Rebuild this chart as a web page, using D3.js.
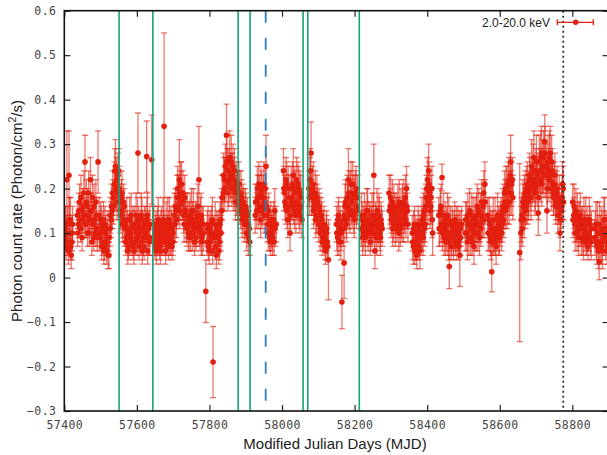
<!DOCTYPE html>
<html>
<head>
<meta charset="utf-8">
<script src="https://cdn.jsdelivr.net/npm/d3@7"></script>
<style>
  body { margin: 0; background: #fff; }
  svg { display: block; }
</style>
</head>
<body>
<svg id="chart" width="607" height="455"></svg>
<script>
// light curve (MJD, rate, 1-sigma error)
var mjd = [
  [57401,57403,57405,57407,57409,57411,57413,57415,57417,57419,57421,57423],
  [57436,57439,57442,57445,57448,57451,57454,57457,57460,57463,57466,57469,57472,57475,57478,57481,57484,57487,57490,57493],
  [57496,57499,57502,57505,57508,57511,57514,57517,57520,57523,57526,57529],
  [57532,57535,57538,57541,57544,57547,57550,57553,57556,57559,57562,57565],
  [57568,57571,57574,57577,57580,57583,57586,57589,57592,57595,57598,57601,57605,57608,57611,57614,57617,57620,57623,57626,57629,57632,57635],
  [57644,57647,57650,57653,57656,57659,57662,57665,57668,57671,57674,57678,57681,57684,57687,57690,57693,57696,57699,57702],
  [57705,57708,57711,57714,57717,57720,57723,57726,57729,57732],
  [57735,57738,57741,57744,57747,57750,57753,57756,57759,57762,57765,57768,57771,57774,57777,57780,57783],
  [57793,57796,57799,57802,57805,57808,57813,57816,57819,57822,57825,57828,57831,57834],
  [57838,57841,57844,57847,57850,57853,57856,57859,57862,57865,57868,57871,57874],
  [57877,57880,57883,57886,57889,57892,57895,57898,57901,57904,57907,57910],
  [57926,57929,57932,57935,57938,57941,57944,57947,57950,57953,57956,57959,57962,57965,57968,57971,57974,57977,57980,57984],
  [58004,58007,58010,58013,58016,58019,58022,58025,58028,58031,58034,58037,58040,58043,58046,58049,58052,58055],
  [58074,58077,58080,58083,58086,58089,58092,58095,58098,58101,58104,58107,58110,58113,58116,58119,58122,58125,58128],
  [58150,58153,58156,58159,58162,58168,58174,58177,58180,58183,58186,58189,58192,58195,58198,58201,58204,58207],
  [58218,58221,58224,58227,58230,58233,58236,58239,58242,58245,58248,58251,58253,58256,58259,58262,58265,58268,58271,58274],
  [58295,58298,58301,58304,58307,58310,58313,58316,58319,58322,58325,58328,58331,58334,58337,58340,58343,58346],
  [58359,58362,58365,58368,58371,58374,58377,58380,58383,58386,58389,58392,58395,58398,58401,58404,58407,58410,58413,58415],
  [58432,58435,58438,58441,58444,58447,58450,58453,58456,58459,58461,58464,58467,58470,58473,58476,58479,58482,58485,58488,58490,58493],
  [58505,58508,58511,58514,58517,58520,58523,58526,58529,58532,58535,58538,58541,58544,58547,58550,58553,58556,58559],
  [58567,58570,58573,58576,58578,58581,58584,58587,58590,58593,58596,58599],
  [58601,58604,58607,58610,58613,58616,58619,58622,58625,58628,58630,58633,58636],
  [58655,58658,58661,58664,58667,58670,58673,58676,58679,58682,58685,58688,58691,58694,58697,58700,58703,58706,58709,58712,58715,58718,58721,58724,58727,58730,58733,58736,58739,58742,58745,58748,58751,58754,58757,58760,58763,58766,58769,58772,58775],
  [58801,58804,58807,58810,58813,58816,58819,58822,58825,58828,58831,58834,58837,58840,58843,58846,58849,58852],
  [58862,58865,58868,58871,58874,58877,58880,58883,58886,58889,58892,58895,58898],
  [57603,57627,57641,57675,57790,57810,58165,58171]
];
var rate = [
  [0.09,0.11,0.07,0.22,0.12,0.06,0.23,0.10,0.13,0.05,0.08,0.12],
  [0.14,0.12,0.17,0.11,0.15,0.13,0.19,0.26,0.12,0.16,0.14,0.10,0.22,0.15,0.18,0.09,0.13,0.17,0.11,0.26],
  [0.14,0.10,0.12,0.08,0.13,0.07,0.10,0.06,0.09,0.05,0.11,0.13],
  [0.15,0.18,0.21,0.25,0.22,0.19,0.24,0.17,0.15,0.19,0.13,0.16],
  [0.12,0.09,0.11,0.07,0.13,0.10,0.08,0.12,0.06,0.11,0.14,0.09,0.12,0.10,0.08,0.13,0.11,0.07,0.12,0.09,0.14,0.11,0.08],
  [0.09,0.12,0.07,0.11,0.08,0.13,0.10,0.06,0.12,0.09,0.11,0.08,0.12,0.10,0.07,0.13,0.09,0.11,0.08,0.12],
  [0.12,0.15,0.18,0.16,0.22,0.19,0.21,0.17,0.14,0.18],
  [0.15,0.11,0.13,0.09,0.14,0.12,0.10,0.15,0.08,0.13,0.11,0.16,0.22,0.10,0.14,0.09,0.12],
  [0.08,0.12,0.06,0.11,0.09,0.13,0.10,0.12,0.05,0.09,0.11,0.08,0.13,0.15],
  [0.19,0.22,0.25,0.32,0.24,0.21,0.27,0.23,0.20,0.25,0.22,0.19,0.21],
  [0.20,0.17,0.19,0.15,0.18,0.14,0.16,0.13,0.15,0.12,0.09,0.11],
  [0.14,0.17,0.20,0.15,0.18,0.13,0.19,0.16,0.21,0.17,0.25,0.14,0.10,0.12,0.08,0.11,0.09,0.13,0.15,0.12],
  [0.24,0.19,0.16,0.21,0.13,0.18,0.10,0.20,0.17,0.23,0.15,0.19,0.22,0.16,0.20,0.14,0.18,0.13],
  [0.20,0.22,0.28,0.18,0.21,0.16,0.19,0.14,0.17,0.12,0.15,0.11,0.13,0.09,0.12,0.07,0.10,0.08,0.04],
  [0.12,0.09,0.14,0.11,0.08,0.13,0.16,0.12,0.18,0.22,0.15,0.19,0.17,0.21,0.14,0.18,0.20,0.16],
  [0.11,0.13,0.10,0.14,0.09,0.12,0.15,0.11,0.13,0.10,0.14,0.12,0.23,0.06,0.12,0.15,0.11,0.13,0.09,0.12],
  [0.19,0.16,0.13,0.17,0.12,0.15,0.11,0.14,0.16,0.10,0.13,0.15,0.12,0.17,0.14,0.18,0.20,0.15],
  [0.10,0.07,0.12,0.08,0.05,0.09,0.11,0.06,0.10,0.13,0.09,0.15,0.12,0.18,0.22,0.24,0.19,0.16,0.20,0.10],
  [0.14,0.11,0.16,0.225,0.12,0.09,0.13,0.10,0.14,0.08,0.025,0.12,0.09,0.11,0.07,0.13,0.10,0.08,0.12,0.09,0.05,0.11],
  [0.10,0.13,0.08,0.12,0.15,0.09,0.14,0.11,0.07,0.13,0.10,0.16,0.12,0.09,0.14,0.17,0.13,0.19,0.21],
  [0.14,0.10,0.12,0.08,0.013,0.11,0.09,0.13,0.07,0.10,0.12,0.09],
  [0.11,0.14,0.12,0.16,0.19,0.15,0.20,0.17,0.22,0.19,0.26,0.21,0.18],
  [0.056,0.10,0.14,0.17,0.13,0.19,0.16,0.21,0.18,0.23,0.20,0.25,0.22,0.27,0.19,0.24,0.21,0.145,0.26,0.22,0.28,0.24,0.27,0.306,0.23,0.15,0.26,0.22,0.28,0.20,0.24,0.18,0.21,0.16,0.19,0.14,0.17,0.10,0.15,0.18,0.20],
  [0.17,0.14,0.12,0.15,0.10,0.13,0.11,0.14,0.09,0.12,0.08,0.11,0.13,0.09,0.07,0.10,0.12,0.08],
  [0.09,0.12,0.07,0.10,0.035,0.08,0.11,0.06,0.09,0.13,0.08,0.10,0.07],
  [0.28,0.272,0.265,0.34,-0.031,-0.19,-0.055,0.033]
];
var rateErr = [
  [0.04,0.05,0.03,0.11,0.04,0.03,0.10,0.04,0.05,0.03,0.04,0.04],
  [0.03,0.03,0.04,0.03,0.04,0.03,0.05,0.06,0.03,0.04,0.04,0.03,0.05,0.04,0.05,0.03,0.04,0.05,0.04,0.07],
  [0.04,0.03,0.04,0.03,0.04,0.03,0.04,0.03,0.04,0.03,0.04,0.04],
  [0.04,0.04,0.05,0.06,0.05,0.04,0.05,0.04,0.04,0.05,0.04,0.04],
  [0.04,0.03,0.04,0.03,0.05,0.04,0.03,0.04,0.03,0.04,0.05,0.04,0.04,0.04,0.03,0.05,0.04,0.03,0.04,0.04,0.05,0.04,0.03],
  [0.04,0.04,0.03,0.04,0.03,0.05,0.04,0.03,0.04,0.04,0.04,0.03,0.05,0.04,0.03,0.05,0.04,0.04,0.03,0.04],
  [0.04,0.04,0.05,0.04,0.09,0.05,0.05,0.04,0.04,0.05],
  [0.04,0.04,0.04,0.03,0.05,0.04,0.04,0.05,0.03,0.04,0.04,0.05,0.12,0.04,0.05,0.04,0.04],
  [0.03,0.04,0.03,0.04,0.04,0.05,0.04,0.05,0.03,0.04,0.04,0.04,0.05,0.05],
  [0.04,0.05,0.05,0.07,0.05,0.05,0.06,0.05,0.04,0.05,0.05,0.04,0.05],
  [0.04,0.04,0.05,0.04,0.04,0.04,0.04,0.04,0.04,0.04,0.04,0.04],
  [0.04,0.04,0.05,0.04,0.05,0.04,0.05,0.04,0.05,0.04,0.07,0.04,0.04,0.04,0.03,0.04,0.04,0.04,0.05,0.04],
  [0.05,0.04,0.04,0.05,0.04,0.05,0.04,0.05,0.04,0.06,0.04,0.05,0.05,0.04,0.05,0.04,0.05,0.04],
  [0.04,0.05,0.07,0.04,0.05,0.04,0.05,0.04,0.04,0.04,0.04,0.04,0.04,0.03,0.04,0.03,0.04,0.04,0.09],
  [0.04,0.04,0.04,0.04,0.04,0.04,0.05,0.04,0.05,0.07,0.04,0.05,0.05,0.05,0.04,0.05,0.05,0.04],
  [0.04,0.04,0.04,0.05,0.04,0.04,0.05,0.04,0.04,0.04,0.05,0.04,0.07,0.04,0.04,0.05,0.04,0.05,0.04,0.04],
  [0.04,0.04,0.04,0.05,0.04,0.04,0.04,0.04,0.05,0.04,0.04,0.05,0.04,0.05,0.04,0.05,0.05,0.04],
  [0.04,0.04,0.04,0.04,0.03,0.04,0.04,0.04,0.04,0.05,0.04,0.05,0.04,0.05,0.05,0.06,0.05,0.04,0.05,0.05],
  [0.04,0.04,0.05,0.03,0.04,0.04,0.04,0.04,0.05,0.04,0.05,0.04,0.04,0.04,0.03,0.04,0.04,0.04,0.04,0.04,0.07,0.04],
  [0.04,0.04,0.04,0.04,0.05,0.04,0.05,0.04,0.04,0.05,0.04,0.05,0.04,0.04,0.05,0.05,0.04,0.05,0.05],
  [0.04,0.04,0.04,0.04,0.045,0.04,0.04,0.05,0.04,0.04,0.04,0.04],
  [0.04,0.04,0.04,0.05,0.05,0.04,0.05,0.05,0.05,0.05,0.06,0.05,0.05],
  [0.2,0.06,0.05,0.05,0.04,0.05,0.04,0.05,0.05,0.05,0.05,0.06,0.05,0.06,0.05,0.05,0.05,0.05,0.06,0.05,0.06,0.05,0.06,0.06,0.05,0.05,0.06,0.05,0.06,0.05,0.05,0.04,0.05,0.04,0.05,0.04,0.04,0.04,0.04,0.05,0.05],
  [0.04,0.04,0.04,0.05,0.04,0.04,0.04,0.05,0.04,0.04,0.04,0.04,0.05,0.04,0.03,0.04,0.04,0.04],
  [0.04,0.05,0.04,0.04,0.04,0.04,0.05,0.04,0.04,0.05,0.04,0.04,0.04],
  [0.09,0.08,0.10,0.21,0.07,0.08,0.06,0.08]
];

// the days in between (the daily scatter that makes the blobs look dense)
var mjdFill = [
  [57402,57406,57410,57414,57418,57422],
  [57437,57440,57443,57446,57449,57452,57455,57458,57461,57464,57467,57470,57473,57476,57479,57482,57485,57488,57491],
  [57497,57500,57503,57506,57509,57512,57515,57518,57521,57524,57527,57530],
  [57533,57536,57539,57542,57545,57548,57551,57554,57557,57560,57563,57566],
  [57569,57572,57575,57578,57581,57584,57587,57590,57593,57596,57599,57602,57606,57609,57612,57615,57618,57621,57624,57628,57630,57633,57636],
  [57645,57648,57651,57654,57657,57660,57663,57666,57669,57672,57676,57679,57682,57685,57688,57691,57694,57697,57700,57703],
  [57706,57709,57712,57715,57718,57721,57724,57727,57730,57733],
  [57736,57739,57742,57745,57748,57751,57754,57757,57760,57763,57766,57769,57772,57775,57778,57781,57784],
  [57794,57797,57800,57803,57806,57809,57814,57817,57820,57823,57826,57829,57832,57835],
  [57839,57842,57845,57848,57851,57854,57857,57860,57863,57866,57869,57872,57875],
  [57878,57881,57884,57887,57890,57893,57896,57899,57902,57905,57908,57911],
  [57927,57930,57933,57936,57939,57942,57945,57948,57951,57954,57957,57960,57963,57966,57969,57972,57975,57978,57981],
  [58005,58008,58011,58014,58017,58020,58023,58026,58029,58032,58035,58038,58041,58044,58047,58050,58053],
  [58075,58078,58081,58084,58087,58090,58093,58096,58099,58102,58105,58108,58111,58114,58117,58120,58123,58126],
  [58151,58154,58157,58160,58163,58169,58172,58175,58178,58181,58184,58187,58190,58193,58196,58199,58202,58205,58208],
  [58219,58222,58225,58228,58231,58234,58237,58240,58243,58246,58249,58252,58255,58258,58261,58264,58267,58270,58273,58276],
  [58296,58299,58302,58305,58308,58311,58314,58317,58320,58323,58326,58329,58332,58335,58338,58341,58344,58347],
  [58360,58363,58366,58369,58372,58375,58378,58381,58384,58387,58390,58393,58396,58399,58402,58405,58408,58411,58414],
  [58433,58436,58439,58442,58445,58448,58451,58454,58457,58460,58463,58466,58469,58472,58475,58478,58481,58484,58487,58489,58492,58495],
  [58506,58509,58512,58515,58518,58521,58524,58527,58530,58533,58536,58539,58542,58545,58548,58551,58554,58557,58560],
  [58568,58571,58574,58577,58580,58582,58585,58588,58591,58594,58597,58600],
  [58602,58605,58608,58611,58614,58617,58620,58623,58626,58629,58632,58635],
  [58659,58662,58665,58668,58671,58674,58677,58680,58683,58686,58689,58692,58695,58698,58701,58704,58707,58710,58713,58716,58719,58722,58725,58728,58731,58734,58737,58740,58743,58746,58749,58752,58755,58758,58761,58764,58767,58770,58773,58776],
  [58802,58805,58808,58811,58814,58817,58820,58823,58826,58829,58832,58835,58838,58841,58844,58847,58850,58853],
  [58863,58866,58869,58872,58875,58878,58881,58884,58887,58890,58893,58896,58899]
];
var rateFill = [
  [0.12,0.10,0.08,0.13,0.07,0.10],
  [0.10,0.15,0.13,0.18,0.09,0.16,0.14,0.12,0.17,0.10,0.19,0.13,0.15,0.08,0.12,0.16,0.10,0.14,0.09],
  [0.09,0.13,0.07,0.11,0.06,0.12,0.08,0.11,0.05,0.09,0.14,0.16],
  [0.19,0.16,0.24,0.20,0.17,0.23,0.20,0.14,0.18,0.12,0.17,0.11],
  [0.08,0.13,0.06,0.10,0.09,0.14,0.11,0.07,0.12,0.08,0.10,0.13,0.07,0.11,0.14,0.06,0.09,0.12,0.10,0.13,0.06,0.09,0.12],
  [0.12,0.08,0.10,0.06,0.12,0.09,0.07,0.11,0.08,0.13,0.10,0.06,0.09,0.13,0.11,0.08,0.12,0.07,0.10,0.14],
  [0.16,0.13,0.20,0.18,0.15,0.21,0.17,0.19,0.12,0.15],
  [0.12,0.14,0.10,0.13,0.09,0.15,0.13,0.11,0.12,0.09,0.14,0.12,0.11,0.13,0.08,0.12,0.10],
  [0.11,0.07,0.10,0.08,0.12,0.06,0.09,0.07,0.11,0.10,0.06,0.12,0.10,0.18],
  [0.23,0.20,0.22,0.26,0.19,0.24,0.22,0.26,0.23,0.20,0.24,0.17,0.19],
  [0.17,0.21,0.16,0.19,0.13,0.17,0.12,0.16,0.10,0.14,0.12,0.08],
  [0.17,0.15,0.18,0.21,0.16,0.20,0.15,0.18,0.14,0.20,0.16,0.12,0.15,0.09,0.13,0.10,0.12,0.08,0.11],
  [0.20,0.17,0.22,0.15,0.20,0.16,0.14,0.18,0.21,0.16,0.20,0.14,0.17,0.21,0.15,0.19,0.16],
  [0.18,0.24,0.19,0.20,0.15,0.17,0.13,0.18,0.14,0.16,0.10,0.14,0.08,0.11,0.09,0.06,0.11,0.07],
  [0.10,0.13,0.08,0.12,0.10,0.11,0.14,0.17,0.13,0.16,0.19,0.14,0.21,0.15,0.18,0.13,0.19,0.15,0.18],
  [0.14,0.09,0.12,0.11,0.13,0.15,0.10,0.13,0.08,0.12,0.11,0.14,0.10,0.13,0.09,0.12,0.14,0.10,0.13,0.11],
  [0.15,0.18,0.14,0.11,0.16,0.13,0.15,0.12,0.14,0.17,0.11,0.13,0.16,0.12,0.15,0.13,0.16,0.12],
  [0.08,0.11,0.06,0.10,0.08,0.12,0.07,0.09,0.12,0.10,0.14,0.11,0.16,0.20,0.17,0.21,0.15,0.18,0.13],
  [0.11,0.15,0.12,0.10,0.14,0.11,0.08,0.12,0.09,0.13,0.10,0.07,0.12,0.09,0.11,0.08,0.12,0.10,0.07,0.11,0.09,0.12],
  [0.13,0.10,0.14,0.09,0.12,0.11,0.08,0.13,0.10,0.12,0.14,0.10,0.15,0.12,0.11,0.14,0.16,0.13,0.17],
  [0.10,0.13,0.09,0.11,0.08,0.13,0.10,0.08,0.11,0.14,0.09,0.12],
  [0.13,0.10,0.15,0.13,0.17,0.20,0.16,0.21,0.17,0.23,0.19,0.22],
  [0.13,0.11,0.16,0.18,0.15,0.20,0.17,0.19,0.22,0.18,0.21,0.24,0.22,0.20,0.26,0.23,0.18,0.24,0.27,0.21,0.25,0.23,0.28,0.25,0.20,0.24,0.27,0.23,0.26,0.21,0.19,0.23,0.17,0.20,0.16,0.18,0.13,0.16,0.21,0.17],
  [0.13,0.16,0.10,0.12,0.14,0.09,0.13,0.11,0.12,0.09,0.13,0.10,0.08,0.12,0.10,0.13,0.09,0.11],
  [0.11,0.08,0.12,0.06,0.12,0.10,0.07,0.11,0.13,0.09,0.11,0.06,0.10]
];
var errFill = [
  [0.04,0.04,0.03,0.05,0.03,0.04],
  [0.03,0.04,0.04,0.05,0.03,0.04,0.04,0.03,0.05,0.03,0.05,0.04,0.04,0.03,0.04,0.05,0.03,0.04,0.03],
  [0.03,0.04,0.03,0.04,0.03,0.04,0.03,0.04,0.03,0.03,0.04,0.05],
  [0.05,0.04,0.05,0.05,0.04,0.05,0.05,0.04,0.04,0.04,0.04,0.04],
  [0.03,0.05,0.03,0.04,0.04,0.05,0.04,0.03,0.04,0.03,0.04,0.05,0.03,0.04,0.05,0.03,0.04,0.04,0.04,0.05,0.03,0.04,0.04],
  [0.04,0.03,0.04,0.03,0.04,0.04,0.03,0.04,0.03,0.05,0.04,0.03,0.04,0.05,0.04,0.03,0.04,0.03,0.04,0.05],
  [0.04,0.04,0.05,0.05,0.04,0.05,0.04,0.05,0.04,0.04],
  [0.04,0.05,0.04,0.04,0.03,0.05,0.04,0.04,0.04,0.03,0.05,0.04,0.04,0.05,0.03,0.04,0.04],
  [0.04,0.03,0.04,0.03,0.04,0.03,0.04,0.03,0.04,0.04,0.03,0.05,0.04,0.05],
  [0.05,0.05,0.05,0.06,0.04,0.05,0.05,0.06,0.05,0.05,0.05,0.04,0.05],
  [0.04,0.05,0.04,0.05,0.04,0.04,0.04,0.04,0.04,0.04,0.04,0.03],
  [0.04,0.04,0.05,0.05,0.04,0.05,0.04,0.05,0.04,0.05,0.04,0.04,0.04,0.03,0.04,0.04,0.04,0.03,0.04],
  [0.05,0.04,0.05,0.04,0.05,0.04,0.04,0.05,0.05,0.04,0.05,0.04,0.04,0.05,0.04,0.05,0.04],
  [0.04,0.05,0.05,0.05,0.04,0.04,0.04,0.05,0.04,0.04,0.04,0.04,0.03,0.04,0.03,0.03,0.04,0.03],
  [0.04,0.04,0.03,0.04,0.04,0.04,0.04,0.05,0.04,0.05,0.05,0.04,0.05,0.04,0.05,0.04,0.05,0.04,0.05],
  [0.05,0.04,0.04,0.04,0.04,0.05,0.04,0.04,0.03,0.04,0.04,0.05,0.04,0.04,0.04,0.04,0.05,0.04,0.04,0.04],
  [0.04,0.05,0.04,0.04,0.05,0.04,0.04,0.04,0.04,0.05,0.04,0.04,0.05,0.04,0.04,0.04,0.05,0.04],
  [0.04,0.04,0.03,0.04,0.04,0.04,0.03,0.04,0.04,0.04,0.05,0.04,0.05,0.05,0.05,0.05,0.04,0.05,0.04],
  [0.04,0.05,0.04,0.04,0.05,0.04,0.03,0.04,0.04,0.05,0.04,0.03,0.04,0.04,0.04,0.03,0.04,0.04,0.03,0.04,0.04,0.04],
  [0.04,0.04,0.05,0.04,0.04,0.04,0.03,0.05,0.04,0.04,0.05,0.04,0.05,0.04,0.04,0.05,0.05,0.04,0.05],
  [0.04,0.05,0.04,0.04,0.03,0.05,0.04,0.03,0.04,0.05,0.04,0.04],
  [0.04,0.04,0.05,0.04,0.05,0.05,0.05,0.05,0.05,0.05,0.05,0.05],
  [0.05,0.04,0.05,0.05,0.04,0.05,0.05,0.05,0.05,0.05,0.05,0.06,0.05,0.05,0.06,0.05,0.05,0.05,0.06,0.05,0.06,0.05,0.06,0.05,0.05,0.05,0.06,0.05,0.06,0.05,0.05,0.05,0.04,0.05,0.04,0.05,0.04,0.04,0.05,0.04],
  [0.04,0.05,0.04,0.04,0.05,0.04,0.04,0.04,0.04,0.04,0.05,0.04,0.03,0.04,0.04,0.05,0.04,0.04],
  [0.04,0.04,0.05,0.04,0.05,0.04,0.04,0.04,0.05,0.04,0.04,0.03,0.04]
];

// reference epochs (vertical markers)
var greenLines = [57551, 57644, 57879, 57912, 58058, 58071, 58213];
var blueLine = 57955;
var dottedLine = 58775;

var xTicks = [57400, 57600, 57800, 58000, 58200, 58400, 58600, 58800];
var yTicks = [-0.3, -0.2, -0.1, 0, 0.1, 0.2, 0.3, 0.4, 0.5, 0.6];
var legendLabel = "2.0-20.0 keV";

var W = 607, H = 455;
var plot = { left: 64.3, right: 608.6, top: 10.7, bottom: 411 };
var red = "#e3200f";

var x = d3.scaleLinear().domain([57400, 58900]).range([plot.left, plot.right]);
var y = d3.scaleLinear().domain([-0.3, 0.6]).range([plot.bottom, plot.top]);

var svg = d3.select("#chart");
svg.append("rect").attr("width", W).attr("height", H).attr("fill", "#fff");

// flatten the chunks into points
var points = [];
function addChunks(ts, rs, es) {
  ts.forEach(function (chunk, i) {
    var n = Math.min(chunk.length, rs[i].length, es[i].length);
    for (var k = 0; k < n; k++) {
      points.push({ t: chunk[k], r: rs[i][k], e: es[i][k] });
    }
  });
}
addChunks(mjdFill, rateFill, errFill);
addChunks(mjd, rate, rateErr);

svg.append("clipPath").attr("id", "clip")
  .append("rect")
  .attr("x", plot.left).attr("y", plot.top)
  .attr("width", plot.right - plot.left).attr("height", plot.bottom - plot.top);

var data = svg.append("g").attr("clip-path", "url(#clip)");

// error bars
var bars = data.append("g")
  .attr("stroke", red)
  .attr("stroke-opacity", 0.6)
  .attr("stroke-width", 1.3);
var cap = 3;
points.forEach(function (p) {
  var px = x(p.t);
  bars.append("line").attr("x1", px).attr("x2", px)
    .attr("y1", y(p.r - p.e)).attr("y2", y(p.r + p.e));
  bars.append("line").attr("x1", px - cap).attr("x2", px + cap)
    .attr("y1", y(p.r + p.e)).attr("y2", y(p.r + p.e));
  bars.append("line").attr("x1", px - cap).attr("x2", px + cap)
    .attr("y1", y(p.r - p.e)).attr("y2", y(p.r - p.e));
});

data.append("g").selectAll("circle")
  .data(points)
  .enter().append("circle")
  .attr("cx", function (d) { return x(d.t); })
  .attr("cy", function (d) { return y(d.r); })
  .attr("r", 2.8)
  .attr("fill", red);

// marker lines
var marks = svg.append("g");
greenLines.forEach(function (t) {
  marks.append("line")
    .attr("x1", x(t)).attr("x2", x(t))
    .attr("y1", plot.top).attr("y2", plot.bottom)
    .attr("stroke", "#14a37a").attr("stroke-width", 1.6);
});
marks.append("line")
  .attr("x1", x(blueLine)).attr("x2", x(blueLine))
  .attr("y1", plot.top).attr("y2", plot.bottom)
  .attr("stroke", "#2a7fbf").attr("stroke-width", 1.8)
  .attr("stroke-dasharray", "12,15");
marks.append("line")
  .attr("x1", x(dottedLine)).attr("x2", x(dottedLine))
  .attr("y1", plot.top).attr("y2", plot.bottom)
  .attr("stroke", "#333").attr("stroke-width", 1.8)
  .attr("stroke-dasharray", "2,3");

// axes
var tickFont = "'DejaVu Sans Mono', monospace";
svg.append("g")
  .attr("transform", "translate(" + plot.left + ",0)")
  .call(d3.axisLeft(y).tickValues(yTicks).tickSize(-6).tickPadding(8)
    .tickFormat(function (d) { return d === 0 ? "0" : d3.format(".1f")(d); }));
svg.append("g")
  .attr("transform", "translate(0," + plot.bottom + ")")
  .call(d3.axisBottom(x).tickValues(xTicks).tickSize(-6).tickPadding(10)
    .tickFormat(d3.format("d")));
svg.append("g")
  .attr("transform", "translate(0," + plot.top + ")")
  .call(d3.axisTop(x).tickValues(xTicks).tickSize(-6).tickFormat(""));
svg.append("g")
  .attr("transform", "translate(" + plot.right + ",0)")
  .call(d3.axisRight(y).tickValues(yTicks).tickSize(-6).tickFormat(""));

svg.selectAll(".domain").remove();
svg.selectAll(".tick line").attr("stroke", "#222").attr("stroke-width", 1.2);
svg.selectAll(".tick text")
  .attr("font-family", tickFont)
  .attr("font-size", 11.5)
  .attr("letter-spacing", 0.4)
  .attr("fill", "#444");

svg.append("rect")
  .attr("x", plot.left).attr("y", plot.top)
  .attr("width", plot.right - plot.left).attr("height", plot.bottom - plot.top)
  .attr("fill", "none").attr("stroke", "#111").attr("stroke-width", 1.6);

// axis titles
var labelFont = "'Liberation Sans', Arial, sans-serif";
svg.append("text")
  .attr("x", 335).attr("y", 449)
  .attr("text-anchor", "middle")
  .attr("font-family", labelFont).attr("font-size", 15)
  .attr("fill", "#222")
  .text("Modified Julian Days (MJD)");

var yl = svg.append("text")
  .attr("transform", "translate(22,211) rotate(-90)")
  .attr("text-anchor", "middle")
  .attr("font-family", labelFont).attr("font-size", 15)
  .attr("fill", "#222");
yl.append("tspan").text("Photon count rate (Photon/cm");
yl.append("tspan").attr("dy", -6).attr("font-size", 10.5).text("2");
yl.append("tspan").attr("dy", 6).text("/s)");

// legend
var lg = svg.append("g");
lg.append("text")
  .attr("x", 550).attr("y", 26.5)
  .attr("text-anchor", "end")
  .attr("font-family", labelFont).attr("font-size", 12)
  .attr("fill", "#222")
  .text(legendLabel);
var ly = 22.3;
lg.append("line").attr("x1", 557.3).attr("x2", 593.3).attr("y1", ly).attr("y2", ly)
  .attr("stroke", red).attr("stroke-width", 1.3);
lg.append("line").attr("x1", 557.3).attr("x2", 557.3).attr("y1", ly - 3).attr("y2", ly + 3)
  .attr("stroke", red).attr("stroke-width", 1.3);
lg.append("line").attr("x1", 593.3).attr("x2", 593.3).attr("y1", ly - 3).attr("y2", ly + 3)
  .attr("stroke", red).attr("stroke-width", 1.3);
lg.append("circle").attr("cx", 575.7).attr("cy", ly).attr("r", 2.7).attr("fill", red);
</script>
</body>
</html>
